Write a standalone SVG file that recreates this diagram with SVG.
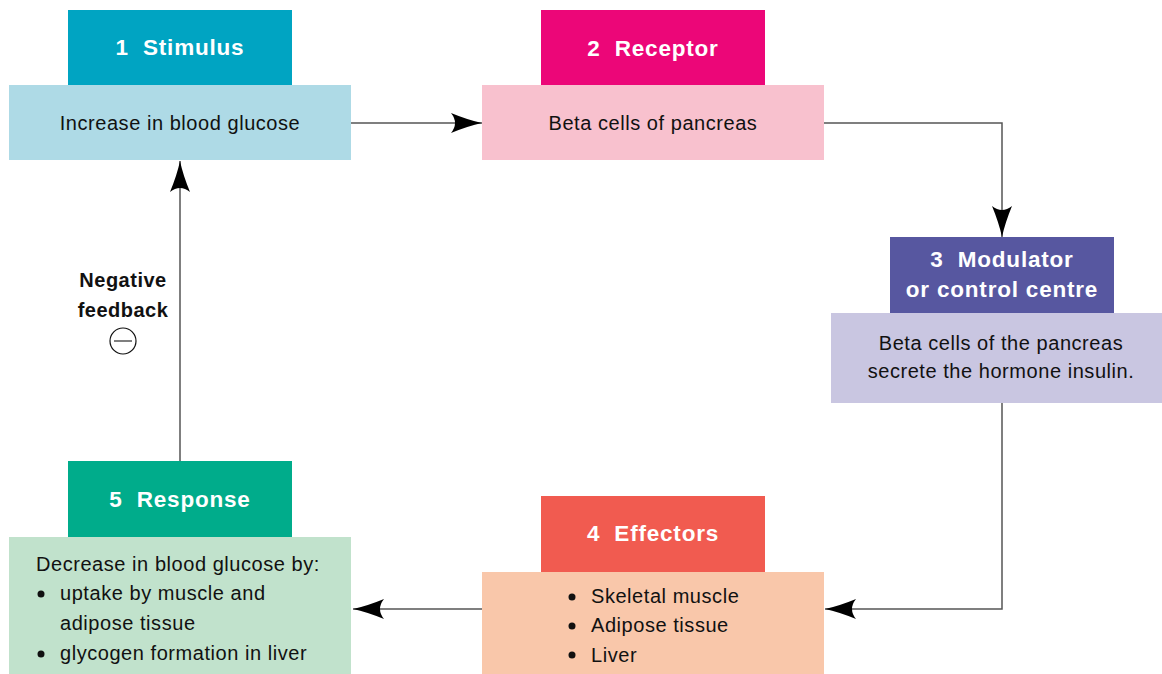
<svg xmlns="http://www.w3.org/2000/svg" width="1162" height="674" viewBox="0 0 1162 674">
  <style>
    text { white-space: pre; }
    .head { font-family: "Liberation Sans", Arial, sans-serif; font-weight: bold; font-size: 22.5px; fill: #ffffff; text-anchor: middle; letter-spacing: 0.8px; }
    .body { font-family: "Liberation Sans", Arial, sans-serif; font-size: 20px; fill: #111111; letter-spacing: 0.55px; }
    .mid { text-anchor: middle; }
    .note { font-family: "Liberation Sans", Arial, sans-serif; font-weight: bold; font-size: 20px; fill: #111111; text-anchor: middle; letter-spacing: 0.5px; }
    .link { fill: none; stroke: #555555; stroke-width: 1.5; marker-end: url(#head); }
    .dot { fill: #111111; }
  </style>
  <defs>
    <marker id="head" markerUnits="userSpaceOnUse" markerWidth="34" markerHeight="24" viewBox="-32 -12 34 24" refX="0" refY="0" orient="auto">
      <path d="M0,0 Q-14,-3 -31,-10 Q-23,0 -31,10 Q-14,3 0,0 Z" fill="#000000"/>
    </marker>
  </defs>
  <rect width="1162" height="674" fill="#ffffff"/>

  <!-- connectors -->
  <g id="connectors">
    <path class="link" d="M351,123 H482"/>
    <path class="link" d="M824,123 H1002 V237"/>
    <path class="link" d="M1002,403 V609 H825"/>
    <path class="link" d="M482,609 H353"/>
    <path class="link" d="M180,461 V161"/>
  </g>

  <!-- 1 Stimulus -->
  <g id="stimulus">
    <rect x="68" y="10" width="224" height="75" fill="#00A4C2"/>
    <rect x="9" y="85" width="342" height="75" fill="#AEDAE6"/>
    <text class="head" x="180" y="55" xml:space="preserve">1  Stimulus</text>
    <text class="body mid" x="180" y="130">Increase in blood glucose</text>
  </g>

  <!-- 2 Receptor -->
  <g id="receptor">
    <rect x="541" y="10" width="224" height="75" fill="#EC0678"/>
    <rect x="482" y="85" width="342" height="75" fill="#F8C1CE"/>
    <text class="head" x="653" y="56" xml:space="preserve">2  Receptor</text>
    <text class="body mid" x="653" y="130">Beta cells of pancreas</text>
  </g>

  <!-- 3 Modulator -->
  <g id="modulator">
    <rect x="890" y="237" width="224" height="76" fill="#5757A0"/>
    <rect x="831" y="313" width="331" height="90" fill="#C9C6E1"/>
    <text class="head" x="1002" y="267" xml:space="preserve">3  Modulator</text>
    <text class="head" x="1002" y="297">or control centre</text>
    <text class="body mid" x="1001" y="350">Beta cells of the pancreas</text>
    <text class="body mid" x="1001" y="378">secrete the hormone insulin.</text>
  </g>

  <!-- 4 Effectors -->
  <g id="effectors">
    <rect x="541" y="496" width="224" height="76" fill="#F15B50"/>
    <rect x="482" y="572" width="342" height="102" fill="#F9C7AA"/>
    <text class="head" x="653" y="541" xml:space="preserve">4  Effectors</text>
    <circle class="dot" cx="572" cy="597" r="3.5"/>
    <circle class="dot" cx="572" cy="626" r="3.5"/>
    <circle class="dot" cx="572" cy="655" r="3.5"/>
    <text class="body" x="591" y="603">Skeletal muscle</text>
    <text class="body" x="591" y="632">Adipose tissue</text>
    <text class="body" x="591" y="662">Liver</text>
  </g>

  <!-- 5 Response -->
  <g id="response">
    <rect x="68" y="461" width="224" height="76" fill="#00AC8B"/>
    <rect x="9" y="537" width="342" height="137" fill="#C1E2CC"/>
    <text class="head" x="180" y="507" xml:space="preserve">5  Response</text>
    <text class="body" x="36" y="571">Decrease in blood glucose by:</text>
    <circle class="dot" cx="41" cy="594" r="3.5"/>
    <text class="body" x="60" y="600">uptake by muscle and</text>
    <text class="body" x="60" y="630">adipose tissue</text>
    <circle class="dot" cx="41" cy="654" r="3.5"/>
    <text class="body" x="60" y="660">glycogen formation in liver</text>
  </g>

  <!-- feedback label -->
  <g id="feedback">
    <text class="note" x="123" y="287">Negative</text>
    <text class="note" x="123" y="317">feedback</text>
    <circle cx="123" cy="341" r="13" fill="none" stroke="#111111" stroke-width="1.2"/>
    <path d="M114,341 H132" stroke="#555555" stroke-width="1.5"/>
  </g>
</svg>
